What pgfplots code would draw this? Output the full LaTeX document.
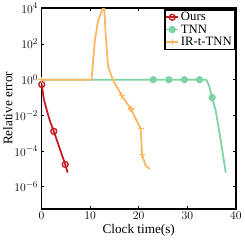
\documentclass[border=0pt]{standalone}
\usepackage{pgfplots}
\pgfplotsset{compat=1.18}
\usepackage{fontspec}
\setmainfont{Liberation Serif}
\definecolor{cred}{RGB}{196,30,36}
\definecolor{cgreen}{RGB}{125,212,160}
\definecolor{corange}{RGB}{255,182,96}
\begin{document}
\begin{tikzpicture}[x=1bp,y=1bp]
\begin{axis}[
  scale only axis,
  width=198bp, height=204bp,
  ymode=log,
  xmin=0, xmax=40,
  ymin=6e-8, ymax=1e4,
  xtick={0,10,20,30,40},
  ytick={1e-6,1e-4,1e-2,1,1e2,1e4},
  tick align=inside,
  major tick length=3bp,
  minor tick length=1.6bp,
  axis line style={line width=1.8pt},
  every tick/.style={black, line width=0.9pt},
  xlabel={Clock time(s)},
  ylabel={Relative error},
  tick label style={font=\fontsize{13}{14}\selectfont},
  label style={font=\fontsize{13.5}{14}\selectfont},
  xlabel style={yshift=2bp},
  ylabel style={yshift=-5bp},
  legend style={font=\fontsize{13}{13}\selectfont, draw=black, line width=1.4pt, inner sep=0.5pt, row sep=-1.5pt, legend cell align=left, at={(1,1)}, anchor=north east, xshift=-1bp, yshift=-1bp},
  legend image code/.code={\draw[#1] (0bp,0bp) -- (12bp,0bp); \draw[#1, mark indices={1}] plot coordinates {(6bp,0bp)};},
]
\addplot[cred, line width=1.8pt, mark=o, mark size=3pt, mark options={line width=1.4pt}, mark indices={1,5,6}] coordinates {
(0.07,0.54) (0.5,0.08) (1.2,0.016) (1.8,0.0045) (2.55,0.0013) (4.9,1.8e-5) (5.4,6.3e-6)
};
\addlegendentry{Ours}
\addplot[cgreen, line width=1.8pt, mark=*, mark size=2.8pt, mark indices={2,3,4,5,8}] coordinates {
(0,1) (23,1) (26.2,1) (29.4,1) (32.5,1) (33.9,1) (34.5,0.43) (35.1,0.1) (35.8,0.021) (36.9,3.5e-4) (37.5,3e-5) (37.9,6.3e-6)
};
\addlegendentry{TNN}
\addplot[corange, line width=1.8pt, mark=+, mark size=3.2pt, mark options={line width=1.4pt}, mark indices={1,9,10,11,12,15}] coordinates {
(0,1) (10.3,1) (11.0,160) (11.65,2000) (12.65,1e4) (12.9,1.2e4) (13.2,400) (13.7,5.4) (14.7,1) (16.5,0.13) (18.4,0.023) (20.4,0.0018) (20.7,6.3e-5) (21.4,1.6e-5) (22.3,1e-5)
};
\addlegendentry{IR-t-TNN}
\end{axis}
\end{tikzpicture}
\end{document}
